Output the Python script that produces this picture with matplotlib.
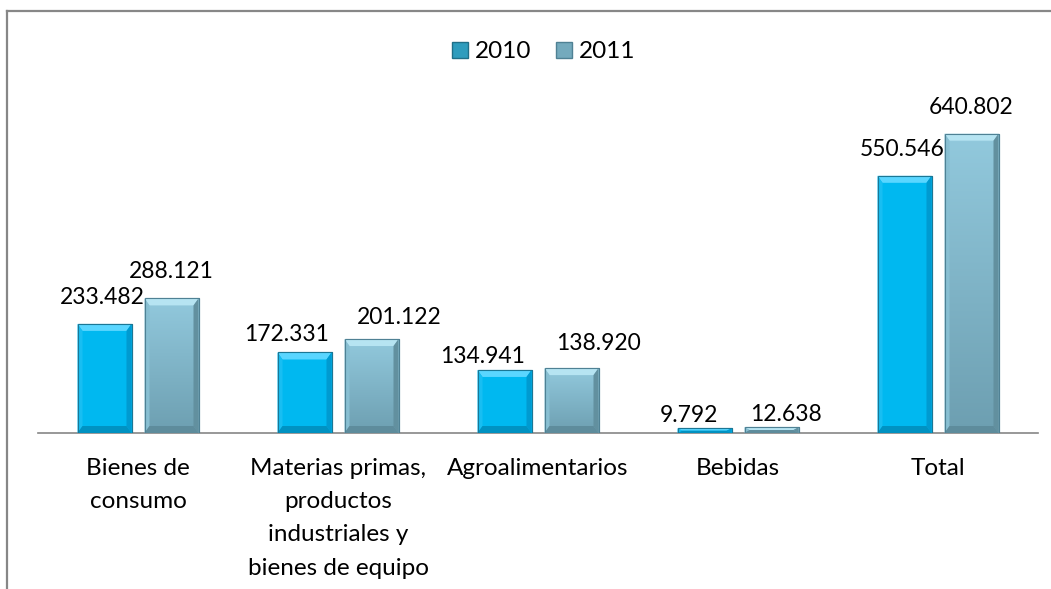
import matplotlib
matplotlib.use("Agg")
import matplotlib.pyplot as plt
import numpy as np
from matplotlib.patches import Polygon, Patch
from matplotlib.lines import Line2D
from matplotlib.colors import LinearSegmentedColormap

categories = ["Bienes de\nconsumo",
              "Materias primas,\nproductos\nindustriales y\nbienes de equipo",
              "Agroalimentarios", "Bebidas", "Total"]
series_names = ["2010", "2011"]
values_2010 = [233.482, 172.331, 134.941, 9.792, 550.546]
values_2011 = [288.121, 201.122, 138.920, 12.638, 640.802]

# label nudges (pixels, dx/dy) to mimic Excel's overlap avoidance
nudge_2010 = [(-2, 0), (-18, -8), (-22, -13), (-16, -14), (-2, 0)]
nudge_2011 = [(0, 0), (28, -5), (27, -2), (14, -14), (0, 0)]

W, H, DPI = 1051, 589, 100
plt.rcParams['font.family'] = ['Lato', 'DejaVu Sans']
fig = plt.figure(figsize=(W / DPI, H / DPI), dpi=DPI)
ax = fig.add_axes([38 / W, 1 - 433 / H, 1000 / W, 327 / H])

x = np.arange(len(categories))
bw = 0.27
off = 0.1675
b1 = ax.bar(x - off, values_2010, bw, color="#00B8F0", edgecolor="#1B7795", linewidth=0.8, zorder=3)
b2 = ax.bar(x + off, values_2011, bw, color="#86BDD1", edgecolor="#4F8194", linewidth=0.8, zorder=3)

ax.set_xlim(-0.5, len(categories) - 0.5)
ax.set_ylim(0, 700)

px_x = (ax.get_xlim()[1] - ax.get_xlim()[0]) / 1000.0
px_y = (ax.get_ylim()[1] - ax.get_ylim()[0]) / 327.0


def bevel(bar, top_c, side_l, side_r, bot_c, grad=None):
    x0, y0 = bar.get_x(), bar.get_y()
    w, h = bar.get_width(), bar.get_height()
    x1, y1 = x0 + w, y0 + h
    if grad is not None:
        img = np.linspace(0, 1, 100).reshape(-1, 1)
        cm = LinearSegmentedColormap.from_list("g", grad)
        im = ax.imshow(img, cmap=cm, extent=(x0, x1, y0, y1), aspect="auto",
                       origin="lower", zorder=3.1)
        im.set_clip_path(bar)
    bx = min(5 * px_x, w / 2)
    by = min(7 * px_y, h / 2)
    polys = [
        ([(x0, y1), (x1, y1), (x1 - bx, y1 - by), (x0 + bx, y1 - by)], top_c),
        ([(x0, y0), (x0 + bx, y0 + by), (x0 + bx, y1 - by), (x0, y1)], side_l),
        ([(x1, y0), (x1, y1), (x1 - bx, y1 - by), (x1 - bx, y0 + by)], side_r),
        ([(x0, y0), (x1, y0), (x1 - bx, y0 + by), (x0 + bx, y0 + by)], bot_c),
    ]
    for pts, c in polys:
        ax.add_patch(Polygon(pts, closed=True, facecolor=c, edgecolor="none", zorder=3.2))
    ax.add_patch(Polygon([(x0, y0), (x1, y0), (x1, y1), (x0, y1)], closed=True,
                         facecolor="none", edgecolor=bar.get_edgecolor(), linewidth=0.8, zorder=3.3))


for b in b1:
    bevel(b, "#5AD6FF", "#18BEF2", "#009AD0", "#0092C2")
for b in b2:
    bevel(b, "#B6E4F2", "#88BFD2", "#62909F", "#5E8C9C", grad=["#6D9FB1", "#92C9DD"])

fs = 16.5
for bars, vals, nudges in ((b1, values_2010, nudge_2010), (b2, values_2011, nudge_2011)):
    for b, v, (nx, ny) in zip(bars, vals, nudges):
        ax.annotate(f"{v:.3f}", (b.get_x() + b.get_width() / 2, b.get_height()),
                    xytext=(nx * 0.72, 11.5 + ny * 0.72), textcoords="offset points",
                    ha="center", va="bottom", fontsize=fs, color="#000000",
                    annotation_clip=False, zorder=5)

ax.set_xticks(x)
ax.set_xticklabels(categories, fontsize=17.5, linespacing=1.72)
ax.tick_params(axis="x", length=0, pad=18)
ax.set_yticks([])
for s in ("top", "right", "left"):
    ax.spines[s].set_visible(False)
ax.spines["bottom"].set_color("#868686")
ax.spines["bottom"].set_linewidth(1.2)
ax.spines["bottom"].set_zorder(2)

handles = [Patch(facecolor="#2E9CBD", edgecolor="#1F6F88"),
           Patch(facecolor="#74AABD", edgecolor="#4F8194")]
fig.legend(handles, series_names, loc="center", bbox_to_anchor=(544 / W, 1 - 52 / H),
           ncol=2, frameon=False, fontsize=17.5, handlelength=0.65, handleheight=0.65,
           handletextpad=0.3, columnspacing=1.0)

# chart border (top and left visible)
fig.add_artist(Line2D([7 / W, 1.0], [1 - 11 / H, 1 - 11 / H], color="#878787", linewidth=1.6))
fig.add_artist(Line2D([7 / W, 7 / W], [1 - 11 / H, 0], color="#878787", linewidth=1.6))

fig.savefig("out.png", dpi=DPI)
